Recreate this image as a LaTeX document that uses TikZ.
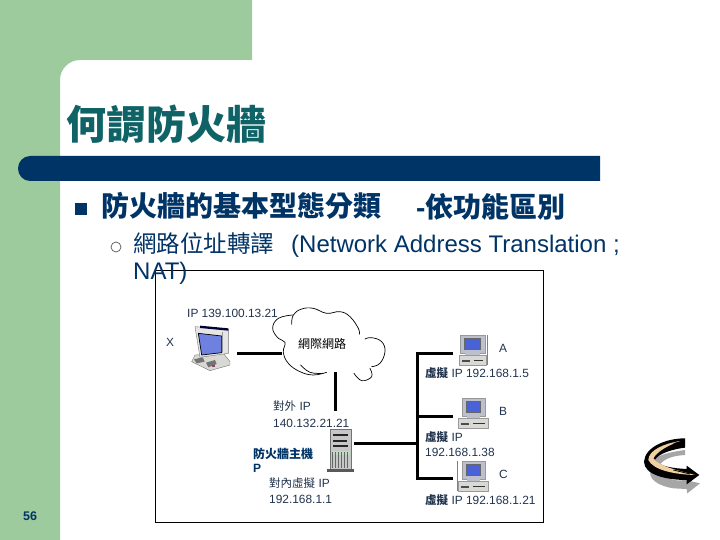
\documentclass[tikz,border=0pt]{standalone}
\usepackage{fontspec}
\setmainfont{Liberation Sans}
\newfontfamily\cjk{Noto Sans CJK TC}
\usetikzlibrary{calc}
\definecolor{bggreen}{HTML}{9ECB9E}
\definecolor{barblue}{HTML}{003366}
\definecolor{titleteal}{HTML}{0F6366}
\definecolor{labelink}{HTML}{22344E}
\definecolor{monitorgray}{HTML}{BCC0CC}
\definecolor{screenblue}{HTML}{4A62D8}
\definecolor{basegray}{HTML}{D8D8D4}
\definecolor{tan}{HTML}{F0D0A0}
\tikzset{
  anchorbox/.style={inner sep=0pt,outer sep=0pt,draw=none},
  wire/.style={line width=3pt,black,line join=miter},
  lbl/.style={anchor=west,inner sep=0pt,text=labelink,font=\fontsize{11.9}{12}\selectfont},
  cloudline/.style={line width=.7pt,black,line cap=round,smooth,tension=.7},
}
\newcommand{\drawpc}[5]{%
  \begin{scope}[shift={(#1,#2)}]
    \fill[monitorgray] (#4,0) rectangle (#5,18);
    \draw[black!40,line width=.4pt] (#4,0) rectangle (#5,18);
    \fill[screenblue] ({#4+4},3) rectangle ({#5-5},14);
    \draw[black!60,line width=.4pt] ({#4+4},3) rectangle ({#5-5},14);
    \fill[monitorgray] ({#4+5},18) rectangle ({#5-5},20);
    \fill[basegray] (0,20) rectangle (#3,30);
    \draw[black!40,line width=.4pt] (0,20) rectangle (#3,30);
    \fill[black!70] (3,25) rectangle (11,26.5);
    \fill[black!80] (15,24.5) rectangle ({#3-3},25.5);
  \end{scope}}
\begin{document}
\begin{tikzpicture}[x=1pt,y=-1pt]
\useasboundingbox (0,0) rectangle (720,540);
\fill[white] (0,0) rectangle (720,540);
% background
\fill[bggreen] (0,0) -- (252,0) -- (252,60) -- (80,60) .. controls (69,60) and (60,69) .. (60,80) -- (60,540) -- (0,540) -- cycle;
\fill[barblue] (600,156) -- (30,156) .. controls (23,156) and (18,162) .. (18,168.5) .. controls (18,175) and (23,181) .. (30,181) -- (600,181) -- cycle;
% title and text
\node[anchor=west,inner sep=0pt,text=titleteal,font=\cjk\bfseries\fontsize{40}{40}\selectfont] (title) at (66,124) {何謂防火牆};
\node[fill=barblue,minimum size=12pt,inner sep=0pt] (bullet1) at (81,209) {};
\node[anchor=west,inner sep=0pt,text=barblue,font=\cjk\bfseries\fontsize{28}{28}\selectfont] (head1) at (101,206) {防火牆的基本型態分類};
\node[anchor=west,inner sep=0pt,text=barblue,font=\bfseries\fontsize{28}{28}\selectfont] (head2) at (416,207) {-{\cjk 依功能區別}};
\node[circle,draw=black!65,line width=.7pt,minimum size=10pt,inner sep=0pt] (bullet2) at (116,247) {};
% diagram frame
\node[anchor=north west,draw=black,fill=white,line width=1pt,minimum width=388pt,minimum height=252pt,inner sep=0pt] (frame) at (155,270) {};
\node[anchor=west,inner sep=0pt,text=barblue,font=\fontsize{24}{24}\selectfont] (line1) at (133,245) {{\cjk\fontsize{23.5}{24}\selectfont 網路位址轉譯}\hspace{17pt}(Network Address Translation ;};
\node[anchor=west,inner sep=0pt,text=barblue,font=\fontsize{24}{24}\selectfont] (line2) at (133,273) {NAT)};
% named places
\node[anchorbox,minimum width=54pt,minimum height=44pt] (X) at (210,353) {};
\node[anchorbox,minimum width=106pt,minimum height=56pt] (net) at (335,344) {};
\node[anchorbox,minimum width=38pt,minimum height=64pt] (FW) at (335,443) {};
\node[anchorbox,minimum width=37pt,minimum height=32pt] (A) at (471.5,353) {};
\node[anchorbox,minimum width=37pt,minimum height=32pt] (B) at (471.5,416) {};
\node[anchorbox,minimum width=37pt,minimum height=32pt] (C) at (471.5,478) {};
\coordinate (bus) at (417,443);
% cloud
\begin{scope}[shift={(150,265)},x=.3333pt,y=-.3333pt]
\draw[cloudline] plot coordinates {(428,150)(385,160)(368,190)(385,220)(405,232)(400,262)(415,295)(450,320)(490,330)(530,322)};
\draw[cloudline] plot coordinates {(425,178)(430,150)(455,132)(490,130)(530,145)(570,140)(600,155)(625,190)(628,208)};
\draw[cloudline] plot coordinates {(645,222)(665,218)(695,230)(705,260)(690,295)(665,305)};
\draw[cloudline] plot coordinates {(660,310)(665,335)(635,347)(612,325)};
\draw[cloudline] plot coordinates {(452,300)(480,322)(518,325)};
\end{scope}
% connectors
\draw[wire] (X.east) -- (X.east -| net.west);
\draw[wire] (net.south) -- (FW.north);
\draw[wire] (FW.east) -- (bus);
\draw[wire] (A.west) -| (bus);
\draw[wire] (B.west) -- (B.west -| bus);
\draw[wire] (C.west) -| (bus);
% computer X
\begin{scope}[shift={(180,320)},x=.3333pt,y=-.3333pt]
  \fill[basegray] (45,105) -- (130,100) -- (150,125) -- (150,135) -- (90,152) -- (35,125) -- cycle;
  \draw[black!55,line width=.4pt] (45,105) -- (130,100) -- (150,125) -- (150,135) -- (90,152) -- (35,125) -- cycle;
  \fill[black!55] (42,118) -- (68,112) -- (74,125) -- (50,130) -- cycle;
  \fill[black!55] (78,128) -- (105,120) -- (110,132) -- (85,142) -- cycle;
  \fill[magenta!50!black] (96,136) rectangle (106,142);
  \fill[black!10] (45,20) -- (145,28) -- (145,100) -- (60,112) -- cycle;
  \draw[black!55,line width=.4pt] (45,20) -- (145,28) -- (145,100) -- (60,112) -- cycle;
  \fill[screenblue!80!white] (55,40) -- (125,48) -- (125,98) -- (65,105) -- cycle;
  \draw[black,line width=.7pt] (55,40) -- (125,48) -- (125,98) -- (65,105) -- cycle;
  \fill[black!80!blue] (60,17) -- (145,25) -- (145,32) -- (60,24) -- cycle;
  \fill[black!40] (125,35) rectangle (130,95);
\end{scope}
% computers A B C
\drawpc{459}{335}{27}{1}{26}
\drawpc{458}{398}{30}{4}{27}
\drawpc{458}{461}{30}{4}{27}
\draw[orange!70!red,line width=.7pt] (487,335) -- (487,365);
\draw[orange!70!red,line width=.7pt] (457,461) -- (457,491);
% server
\begin{scope}[shift={(320,425)},x=.3333pt,y=-.3333pt]
  \fill[black!22] (30,12) rectangle (95,132);
  \draw[black!55,line width=.4pt] (30,12) rectangle (95,132);
  \fill[black!85] (40,28) rectangle (85,33);
  \fill[black!85] (40,46) rectangle (80,51);
  \fill[black!85] (40,60) rectangle (85,65);
  \fill[green!45!black!25] (35,78) rectangle (90,90);
  \foreach \i in {38,47,...,90} \draw[black!60,line width=.5pt] (\i,82) -- (\i,130);
  \fill[black!65] (20,132) rectangle (102,140);
\end{scope}
% labels
\node[lbl] (t1) at (187,313) {IP 139.100.13.21};
\node[lbl] (t2) at (166,342) {X};
\node[lbl,text=black,font=\cjk\fontsize{12}{12}\selectfont] (t3) at (298,344) {網際網路};
\node[lbl] (t4) at (499,348) {A};
\node[lbl] (t5) at (425,373) {{\cjk\fontsize{11.5}{12}\selectfont\bfseries 虛擬} IP 192.168.1.5};
\node[lbl] (t6) at (273,406) {{\cjk\fontsize{11.5}{12}\selectfont 對外} IP};
\node[lbl] (t7) at (273,423) {140.132.21.21};
\node[lbl,text=barblue,font=\cjk\bfseries\fontsize{12}{12}\selectfont] (t8) at (253,454) {防火牆主機};
\node[lbl,text=barblue,font=\bfseries\fontsize{12}{12}\selectfont] (t9) at (253,468) {P};
\node[lbl] (t10) at (269,483) {{\cjk\fontsize{11.5}{12}\selectfont 對內虛擬} IP};
\node[lbl] (t11) at (269,499) {192.168.1.1};
\node[lbl] (t12) at (499,411) {B};
\node[lbl] (t13) at (425,437) {{\cjk\fontsize{11.5}{12}\selectfont\bfseries 虛擬} IP};
\node[lbl] (t14) at (425,452) {192.168.1.38};
\node[lbl] (t15) at (499,474) {C};
\node[lbl] (t16) at (425,500) {{\cjk\fontsize{11.5}{12}\selectfont\bfseries 虛擬} IP 192.168.1.21};
\node[anchor=west,inner sep=0pt,text=barblue,font=\bfseries\fontsize{12.5}{12.5}\selectfont] (pageno) at (23,516) {56};
% return arrow icon
\begin{scope}[shift={(630,425)},x=.3333pt,y=-.3333pt]
  \fill[black!35] (70,125) .. controls (45,150) and (70,180) .. (130,190) -- (170,192) -- (172,205) -- (210,175) -- (165,165) .. controls (130,170) and (95,160) .. (85,125) -- cycle;
  \fill[black!35] (75,100) .. controls (100,85) and (130,80) .. (165,75) -- (165,90) .. controls (130,92) and (100,100) .. (85,125) -- cycle;
  \fill[black] (165,40) .. controls (110,40) and (45,65) .. (42,110) .. controls (42,150) and (110,165) .. (170,165) -- (170,178) -- (208,150) -- (170,122) -- (170,132) .. controls (130,130) and (90,125) .. (75,105) .. controls (85,85) and (130,72) .. (165,68) -- cycle;
  \fill[tan] (150,48) .. controls (105,55) and (55,75) .. (55,105) .. controls (70,135) and (130,148) .. (195,150) .. controls (140,135) and (90,125) .. (70,100) .. controls (85,75) and (120,60) .. (150,48) -- cycle;
  \draw[black,line width=.8pt] (130,55) -- (165,50);
  \draw[black,line width=.8pt] (130,135) -- (180,147);
\end{scope}
\end{tikzpicture}
\end{document}
